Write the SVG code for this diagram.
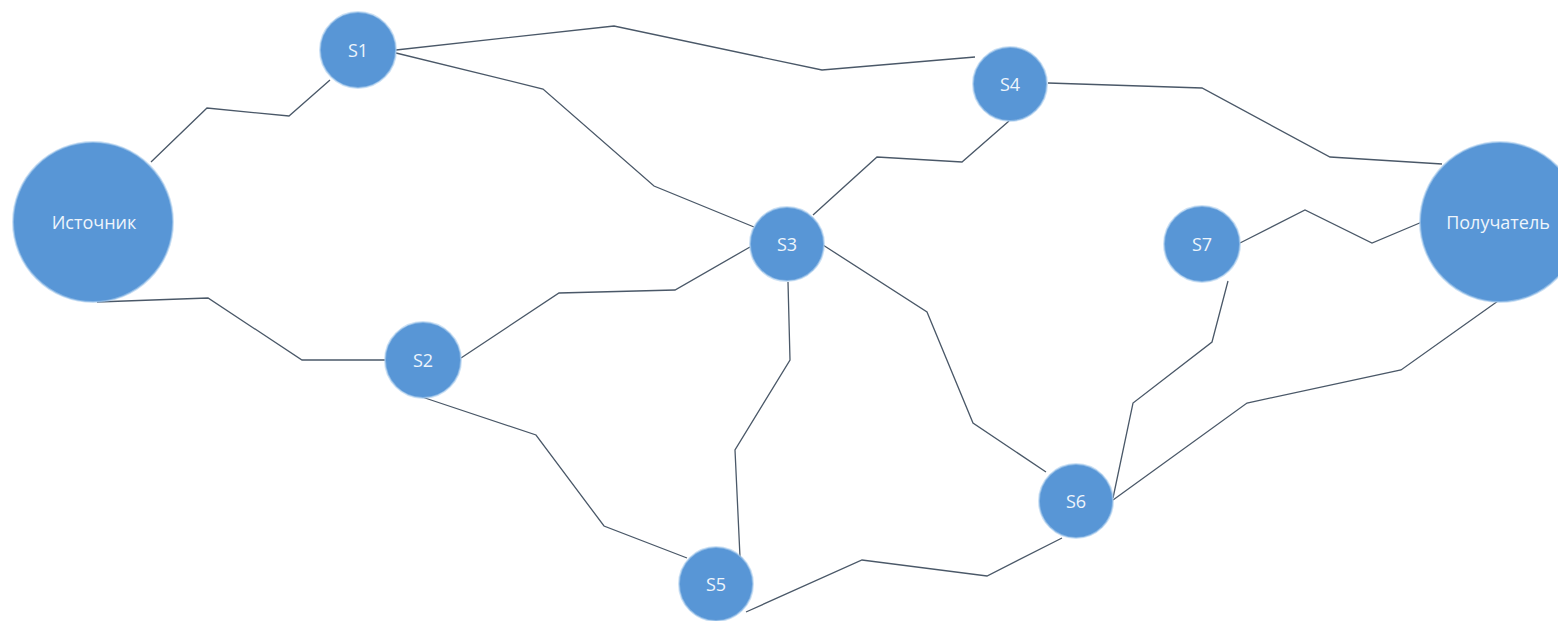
<svg xmlns="http://www.w3.org/2000/svg" width="1558" height="621" viewBox="0 0 1558 621">
<style>
.bg{fill:#ffffff}
.edge{fill:none;stroke:#4a5868;stroke-width:1.3;stroke-linejoin:miter}
.node circle{fill:#5896d6;stroke:#a9cbec;stroke-width:2;stroke-opacity:0.6}
.node text{font-family:"Open Sans","Liberation Sans",sans-serif;font-size:18px;fill:#eef5fc;text-anchor:middle;dominant-baseline:central}
</style>
<rect class="bg" x="0" y="0" width="1558" height="621"/>
<g id="connectors">
<polyline class="edge" points="151,162 207,108 289,116 330,80"/>
<polyline class="edge" points="97,302 208,298 302,360 385,360"/>
<polyline class="edge" points="396,50 614,26 822,70 975,57"/>
<polyline class="edge" points="396,53 543,89 654,186 754,227"/>
<polyline class="edge" points="1009,121 962,162 877,157 813,215"/>
<polyline class="edge" points="1048,83 1202,88 1330,157 1442,164"/>
<polyline class="edge" points="750,247 675,290 559,293 461,358"/>
<polyline class="edge" points="823,245 927,312 973,423 1046,472"/>
<polyline class="edge" points="788,282 790,360 735,450 740,557"/>
<polyline class="edge" points="422,397 536,435 604,526 687,558"/>
<polyline class="edge" points="746,612 862,560 987,576 1062,538"/>
<polyline class="edge" points="1240,243 1305,210 1372,243 1422,222"/>
<polyline class="edge" points="1228,281 1212,342 1133,403 1113,498"/>
<polyline class="edge" points="1113,500 1247,403 1401,370 1498,301"/>
</g>
<g id="node-source" class="node"><circle cx="93" cy="222" r="80"/><text x="94" y="222">Источник</text></g>
<g id="node-s1" class="node"><circle cx="358" cy="50" r="38"/><text x="358" y="50">S1</text></g>
<g id="node-s2" class="node"><circle cx="423" cy="360" r="38"/><text x="423" y="360">S2</text></g>
<g id="node-s3" class="node"><circle cx="787" cy="244" r="37"/><text x="787" y="244">S3</text></g>
<g id="node-s4" class="node"><circle cx="1010" cy="84" r="37"/><text x="1010" y="84">S4</text></g>
<g id="node-s5" class="node"><circle cx="716" cy="584" r="37"/><text x="716" y="584">S5</text></g>
<g id="node-s6" class="node"><circle cx="1076" cy="501" r="37"/><text x="1076" y="501">S6</text></g>
<g id="node-s7" class="node"><circle cx="1202" cy="244" r="38"/><text x="1202" y="244">S7</text></g>
<g id="node-receiver" class="node"><circle cx="1500" cy="222" r="80"/><text x="1498" y="222">Получатель</text></g>
</svg>
